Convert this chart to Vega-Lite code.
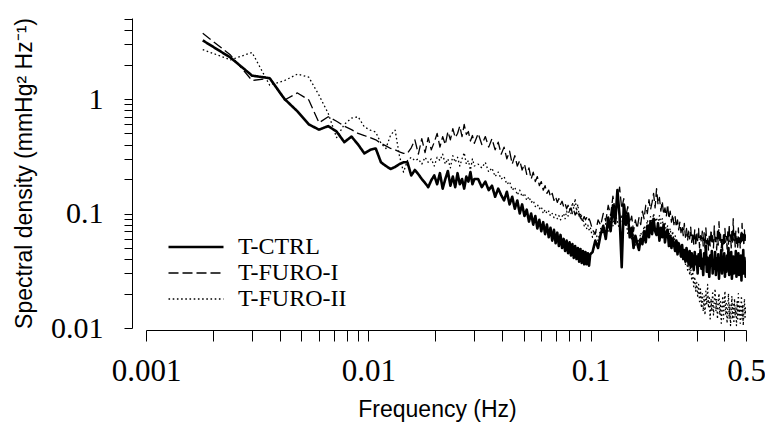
{
"$schema": "https://vega.github.io/schema/vega-lite/v6.json",
"width": 600, "height": 310,
"autosize": "none",
"padding": {"left": 146, "top": 18, "right": 19, "bottom": 108},
"background": "white",
"config": {"view": {"stroke": null}, "font": "Liberation Sans"},
"data": {"values": [
{"f":0.0018,"a":3.25,"b":3.75,"c":2.7},
{"f":0.0024,"a":2.3,"b":2.42,"c":2.2},
{"f":0.003,"a":1.6,"b":1.45,"c":2.55},
{"f":0.0036,"a":1.52,"b":1.52,"c":1.32},
{"f":0.0042,"a":1.0,"b":0.98,"c":1.45},
{"f":0.0048,"a":0.78,"b":1.13,"c":1.65},
{"f":0.0054,"a":0.6,"b":0.98,"c":1.55},
{"f":0.006,"a":0.54,"b":0.62,"c":1.08},
{"f":0.0066,"a":0.58,"b":0.7,"c":0.75},
{"f":0.0072,"a":0.52,"b":0.64,"c":0.46},
{"f":0.0078,"a":0.42,"b":0.58,"c":0.6},
{"f":0.0084,"a":0.47,"b":0.54,"c":0.68},
{"f":0.009,"a":0.4,"b":0.5,"c":0.7},
{"f":0.0096,"a":0.335,"b":0.48,"c":0.57},
{"f":0.0102,"a":0.36,"b":0.46,"c":0.535},
{"f":0.0108,"a":0.37,"b":0.44,"c":0.515},
{"f":0.0114,"a":0.28,"b":0.41,"c":0.41},
{"f":0.012,"a":0.26,"b":0.39,"c":0.37},
{"f":0.0126,"a":0.245,"b":0.37,"c":0.485},
{"f":0.0132,"a":0.255,"b":0.36,"c":0.535},
{"f":0.0138,"a":0.27,"b":0.345,"c":0.32},
{"f":0.0144,"a":0.28,"b":0.335,"c":0.23},
{"f":0.015,"a":0.28,"b":0.336,"c":0.29},
{"f":0.0156,"a":0.215,"b":0.375,"c":0.31},
{"f":0.0162,"a":0.24,"b":0.44,"c":0.29},
{"f":0.0168,"a":0.22,"b":0.33,"c":0.3},
{"f":0.0174,"a":0.2,"b":0.45,"c":0.27},
{"f":0.018,"a":0.185,"b":0.34,"c":0.31},
{"f":0.0186,"a":0.17,"b":0.46,"c":0.28},
{"f":0.0192,"a":0.195,"b":0.36,"c":0.3},
{"f":0.0198,"a":0.215,"b":0.42,"c":0.26},
{"f":0.0204,"a":0.18,"b":0.5,"c":0.31},
{"f":0.021,"a":0.225,"b":0.38,"c":0.29},
{"f":0.0216,"a":0.165,"b":0.47,"c":0.33},
{"f":0.0222,"a":0.2,"b":0.4,"c":0.27},
{"f":0.0228,"a":0.235,"b":0.52,"c":0.3},
{"f":0.0234,"a":0.175,"b":0.44,"c":0.25},
{"f":0.024,"a":0.21,"b":0.55,"c":0.32},
{"f":0.0246,"a":0.17,"b":0.46,"c":0.28},
{"f":0.0252,"a":0.225,"b":0.5,"c":0.31},
{"f":0.0258,"a":0.18,"b":0.58,"c":0.26},
{"f":0.0264,"a":0.2,"b":0.47,"c":0.3},
{"f":0.027,"a":0.165,"b":0.6,"c":0.34},
{"f":0.0276,"a":0.21,"b":0.49,"c":0.27},
{"f":0.0282,"a":0.19,"b":0.52,"c":0.29},
{"f":0.0288,"a":0.23,"b":0.43,"c":0.24},
{"f":0.0294,"a":0.18,"b":0.48,"c":0.3},
{"f":0.03,"a":0.2,"b":0.41,"c":0.26},
{"f":0.0312,"a":0.2,"b":0.5,"c":0.27},
{"f":0.0324,"a":0.17,"b":0.4,"c":0.25},
{"f":0.0336,"a":0.19,"b":0.47,"c":0.28},
{"f":0.0348,"a":0.16,"b":0.38,"c":0.23},
{"f":0.036,"a":0.175,"b":0.45,"c":0.25},
{"f":0.0372,"a":0.14,"b":0.36,"c":0.21},
{"f":0.0384,"a":0.165,"b":0.42,"c":0.23},
{"f":0.0396,"a":0.145,"b":0.33,"c":0.2},
{"f":0.0408,"a":0.13,"b":0.38,"c":0.21},
{"f":0.042,"a":0.155,"b":0.3,"c":0.18},
{"f":0.0432,"a":0.12,"b":0.35,"c":0.19},
{"f":0.0444,"a":0.14,"b":0.27,"c":0.16},
{"f":0.0456,"a":0.11,"b":0.32,"c":0.17},
{"f":0.0468,"a":0.13,"b":0.26,"c":0.145},
{"f":0.048,"a":0.1,"b":0.29,"c":0.16},
{"f":0.0492,"a":0.12,"b":0.24,"c":0.14},
{"f":0.0504,"a":0.095,"b":0.27,"c":0.15},
{"f":0.0516,"a":0.108,"b":0.22,"c":0.13},
{"f":0.0528,"a":0.085,"b":0.25,"c":0.14},
{"f":0.054,"a":0.1,"b":0.2,"c":0.125},
{"f":0.0552,"a":0.08,"b":0.23,"c":0.13},
{"f":0.0564,"a":0.095,"b":0.19,"c":0.115},
{"f":0.0576,"a":0.074,"b":0.21,"c":0.12},
{"f":0.0588,"a":0.088,"b":0.175,"c":0.11},
{"f":0.06,"a":0.07,"b":0.19,"c":0.115},
{"f":0.0612,"a":0.084,"b":0.16,"c":0.1},
{"f":0.0624,"a":0.066,"b":0.175,"c":0.108},
{"f":0.0636,"a":0.08,"b":0.15,"c":0.1},
{"f":0.0648,"a":0.062,"b":0.16,"c":0.105},
{"f":0.066,"a":0.075,"b":0.14,"c":0.095},
{"f":0.0672,"a":0.058,"b":0.15,"c":0.1},
{"f":0.0684,"a":0.072,"b":0.13,"c":0.092},
{"f":0.0696,"a":0.055,"b":0.14,"c":0.098},
{"f":0.0708,"a":0.068,"b":0.125,"c":0.09},
{"f":0.072,"a":0.052,"b":0.135,"c":0.096},
{"f":0.0732,"a":0.065,"b":0.12,"c":0.088},
{"f":0.0744,"a":0.05,"b":0.128,"c":0.094},
{"f":0.0756,"a":0.06,"b":0.115,"c":0.1},
{"f":0.0768,"a":0.047,"b":0.122,"c":0.09},
{"f":0.078,"a":0.058,"b":0.11,"c":0.105},
{"f":0.0792,"a":0.045,"b":0.118,"c":0.095},
{"f":0.0804,"a":0.056,"b":0.105,"c":0.11},
{"f":0.0816,"a":0.043,"b":0.112,"c":0.1},
{"f":0.0828,"a":0.054,"b":0.1,"c":0.125},
{"f":0.084,"a":0.041,"b":0.107,"c":0.11},
{"f":0.0852,"a":0.052,"b":0.097,"c":0.135},
{"f":0.0864,"a":0.04,"b":0.103,"c":0.105},
{"f":0.0876,"a":0.05,"b":0.094,"c":0.12},
{"f":0.0888,"a":0.038,"b":0.1,"c":0.095},
{"f":0.09,"a":0.049,"b":0.091,"c":0.1},
{"f":0.0912,"a":0.037,"b":0.097,"c":0.085},
{"f":0.0924,"a":0.047,"b":0.089,"c":0.09},
{"f":0.0936,"a":0.036,"b":0.094,"c":0.078},
{"f":0.0948,"a":0.046,"b":0.088,"c":0.082},
{"f":0.096,"a":0.036,"b":0.092,"c":0.074},
{"f":0.0972,"a":0.045,"b":0.086,"c":0.079},
{"f":0.0984,"a":0.035,"b":0.09,"c":0.072},
{"f":0.0996,"a":0.044,"b":0.085,"c":0.076},
{"f":0.102,"a":0.046,"b":0.072,"c":0.062},
{"f":0.105,"a":0.058,"b":0.066,"c":0.07},
{"f":0.108,"a":0.05,"b":0.088,"c":0.058},
{"f":0.111,"a":0.066,"b":0.079,"c":0.074},
{"f":0.114,"a":0.078,"b":0.1,"c":0.066},
{"f":0.117,"a":0.06,"b":0.086,"c":0.082},
{"f":0.12,"a":0.092,"b":0.118,"c":0.07},
{"f":0.123,"a":0.07,"b":0.096,"c":0.094},
{"f":0.126,"a":0.118,"b":0.142,"c":0.078},
{"f":0.129,"a":0.082,"b":0.105,"c":0.1},
{"f":0.132,"a":0.16,"b":0.125,"c":0.085},
{"f":0.135,"a":0.095,"b":0.17,"c":0.072},
{"f":0.138,"a":0.034,"b":0.11,"c":0.098},
{"f":0.141,"a":0.12,"b":0.135,"c":0.08},
{"f":0.144,"a":0.08,"b":0.095,"c":0.09},
{"f":0.147,"a":0.1,"b":0.115,"c":0.066},
{"f":0.15,"a":0.062,"b":0.082,"c":0.074},
{"f":0.153,"a":0.075,"b":0.095,"c":0.058},
{"f":0.156,"a":0.05,"b":0.07,"c":0.065},
{"f":0.159,"a":0.064,"b":0.088,"c":0.052},
{"f":0.162,"a":0.055,"b":0.074,"c":0.06},
{"f":0.165,"a":0.048,"b":0.092,"c":0.056},
{"f":0.168,"a":0.06,"b":0.08,"c":0.068},
{"f":0.171,"a":0.054,"b":0.105,"c":0.062},
{"f":0.174,"a":0.07,"b":0.09,"c":0.078},
{"f":0.177,"a":0.056,"b":0.118,"c":0.07},
{"f":0.18,"a":0.078,"b":0.1,"c":0.088},
{"f":0.183,"a":0.062,"b":0.132,"c":0.076},
{"f":0.186,"a":0.085,"b":0.108,"c":0.094},
{"f":0.189,"a":0.066,"b":0.125,"c":0.08},
{"f":0.192,"a":0.09,"b":0.15,"c":0.1},
{"f":0.195,"a":0.07,"b":0.112,"c":0.085},
{"f":0.198,"a":0.065,"b":0.165,"c":0.092},
{"f":0.201,"a":0.082,"b":0.12,"c":0.078},
{"f":0.204,"a":0.058,"b":0.138,"c":0.096},
{"f":0.207,"a":0.075,"b":0.105,"c":0.082},
{"f":0.21,"a":0.062,"b":0.128,"c":0.09},
{"f":0.213,"a":0.08,"b":0.098,"c":0.072},
{"f":0.216,"a":0.056,"b":0.112,"c":0.084},
{"f":0.219,"a":0.068,"b":0.094,"c":0.07},
{"f":0.222,"a":0.072,"b":0.12,"c":0.078},
{"f":0.225,"a":0.052,"b":0.09,"c":0.064},
{"f":0.228,"a":0.064,"b":0.105,"c":0.074},
{"f":0.231,"a":0.05,"b":0.084,"c":0.06},
{"f":0.234,"a":0.06,"b":0.098,"c":0.07},
{"f":0.237,"a":0.054,"b":0.08,"c":0.056},
{"f":0.24,"a":0.047,"b":0.094,"c":0.064},
{"f":0.243,"a":0.058,"b":0.076,"c":0.052},
{"f":0.246,"a":0.044,"b":0.088,"c":0.058},
{"f":0.249,"a":0.055,"b":0.072,"c":0.048},
{"f":0.252,"a":0.05,"b":0.084,"c":0.054},
{"f":0.255,"a":0.042,"b":0.068,"c":0.045},
{"f":0.258,"a":0.053,"b":0.078,"c":0.05},
{"f":0.261,"a":0.04,"b":0.064,"c":0.04},
{"f":0.264,"a":0.048,"b":0.082,"c":0.046},
{"f":0.267,"a":0.038,"b":0.062,"c":0.036},
{"f":0.27,"a":0.05,"b":0.074,"c":0.042},
{"f":0.273,"a":0.043,"b":0.058,"c":0.032},
{"f":0.276,"a":0.036,"b":0.07,"c":0.038},
{"f":0.279,"a":0.047,"b":0.06,"c":0.029},
{"f":0.282,"a":0.034,"b":0.076,"c":0.034},
{"f":0.285,"a":0.045,"b":0.056,"c":0.026},
{"f":0.288,"a":0.038,"b":0.068,"c":0.031},
{"f":0.291,"a":0.032,"b":0.054,"c":0.023},
{"f":0.294,"a":0.046,"b":0.072,"c":0.028},
{"f":0.297,"a":0.036,"b":0.052,"c":0.021},
{"f":0.3,"a":0.042,"b":0.066,"c":0.025},
{"f":0.303,"a":0.03,"b":0.058,"c":0.019},
{"f":0.306,"a":0.044,"b":0.074,"c":0.024},
{"f":0.309,"a":0.035,"b":0.05,"c":0.017},
{"f":0.312,"a":0.048,"b":0.064,"c":0.022},
{"f":0.315,"a":0.033,"b":0.056,"c":0.015},
{"f":0.318,"a":0.04,"b":0.07,"c":0.02},
{"f":0.321,"a":0.029,"b":0.052,"c":0.014},
{"f":0.324,"a":0.045,"b":0.068,"c":0.019},
{"f":0.327,"a":0.036,"b":0.05,"c":0.013},
{"f":0.33,"a":0.052,"b":0.075,"c":0.021},
{"f":0.333,"a":0.031,"b":0.054,"c":0.016},
{"f":0.336,"a":0.041,"b":0.062,"c":0.024},
{"f":0.339,"a":0.034,"b":0.048,"c":0.015},
{"f":0.342,"a":0.028,"b":0.066,"c":0.019},
{"f":0.345,"a":0.043,"b":0.052,"c":0.012},
{"f":0.348,"a":0.035,"b":0.072,"c":0.018},
{"f":0.351,"a":0.047,"b":0.056,"c":0.014},
{"f":0.354,"a":0.03,"b":0.064,"c":0.021},
{"f":0.357,"a":0.039,"b":0.05,"c":0.013},
{"f":0.36,"a":0.033,"b":0.078,"c":0.017},
{"f":0.363,"a":0.046,"b":0.055,"c":0.022},
{"f":0.366,"a":0.029,"b":0.062,"c":0.014},
{"f":0.369,"a":0.04,"b":0.048,"c":0.018},
{"f":0.372,"a":0.032,"b":0.07,"c":0.012},
{"f":0.375,"a":0.044,"b":0.053,"c":0.016},
{"f":0.378,"a":0.027,"b":0.085,"c":0.02},
{"f":0.381,"a":0.038,"b":0.058,"c":0.013},
{"f":0.384,"a":0.034,"b":0.066,"c":0.017},
{"f":0.387,"a":0.048,"b":0.05,"c":0.011},
{"f":0.39,"a":0.03,"b":0.06,"c":0.015},
{"f":0.393,"a":0.041,"b":0.047,"c":0.019},
{"f":0.396,"a":0.033,"b":0.068,"c":0.012},
{"f":0.399,"a":0.045,"b":0.052,"c":0.016},
{"f":0.402,"a":0.028,"b":0.074,"c":0.021},
{"f":0.405,"a":0.037,"b":0.056,"c":0.013},
{"f":0.408,"a":0.031,"b":0.063,"c":0.017},
{"f":0.411,"a":0.043,"b":0.049,"c":0.011},
{"f":0.414,"a":0.035,"b":0.069,"c":0.015},
{"f":0.417,"a":0.05,"b":0.054,"c":0.02},
{"f":0.42,"a":0.029,"b":0.08,"c":0.012},
{"f":0.423,"a":0.039,"b":0.057,"c":0.016},
{"f":0.426,"a":0.032,"b":0.065,"c":0.0105},
{"f":0.429,"a":0.046,"b":0.05,"c":0.014},
{"f":0.432,"a":0.027,"b":0.072,"c":0.019},
{"f":0.435,"a":0.036,"b":0.055,"c":0.012},
{"f":0.438,"a":0.042,"b":0.09,"c":0.016},
{"f":0.441,"a":0.03,"b":0.058,"c":0.011},
{"f":0.444,"a":0.038,"b":0.067,"c":0.018},
{"f":0.447,"a":0.033,"b":0.051,"c":0.013},
{"f":0.45,"a":0.047,"b":0.07,"c":0.015},
{"f":0.453,"a":0.028,"b":0.055,"c":0.0105},
{"f":0.456,"a":0.04,"b":0.062,"c":0.017},
{"f":0.459,"a":0.034,"b":0.049,"c":0.012},
{"f":0.462,"a":0.045,"b":0.075,"c":0.02},
{"f":0.465,"a":0.029,"b":0.056,"c":0.013},
{"f":0.468,"a":0.037,"b":0.064,"c":0.016},
{"f":0.471,"a":0.031,"b":0.05,"c":0.011},
{"f":0.474,"a":0.043,"b":0.07,"c":0.015},
{"f":0.477,"a":0.026,"b":0.054,"c":0.019},
{"f":0.48,"a":0.039,"b":0.082,"c":0.012},
{"f":0.483,"a":0.033,"b":0.058,"c":0.016},
{"f":0.486,"a":0.048,"b":0.066,"c":0.0105},
{"f":0.489,"a":0.03,"b":0.052,"c":0.014},
{"f":0.492,"a":0.041,"b":0.072,"c":0.018},
{"f":0.495,"a":0.035,"b":0.056,"c":0.012},
{"f":0.498,"a":0.028,"b":0.065,"c":0.015},
{"f":0.5,"a":0.038,"b":0.06,"c":0.013}
]},
"transform": [{"fold": ["a", "b", "c"], "as": ["series", "psd"]}],
"mark": {"type": "line", "color": "black", "clip": true, "strokeJoin": "round"},
"encoding": {
  "x": {"field": "f", "type": "quantitative",
    "scale": {"type": "log", "domain": [0.001, 0.5], "nice": false},
    "axis": {"values": [0.001,0.002,0.003,0.004,0.005,0.006,0.007,0.008,0.009,0.01,0.02,0.03,0.04,0.05,0.06,0.07,0.08,0.09,0.1,0.2,0.3,0.4,0.5],
      "labelExpr": "datum.value == 0.001 ? '0.001' : datum.value == 0.01 ? '0.01' : datum.value == 0.1 ? '0.1' : datum.value == 0.5 ? '0.5' : ''",
      "offset": 2, "tickSize": 11, "tickColor": "black", "domainColor": "black", "grid": false,
      "labelFont": "Liberation Serif", "labelFontSize": 31, "labelColor": "black", "labelPadding": 15,
      "labelOverlap": false, "labelFlush": false, "labelBound": false,
      "title": "Frequency (Hz)", "titleFont": "Liberation Sans", "titleFontSize": 23, "titleFontWeight": "normal", "titleColor": "black",
      "titleX": 291, "titleY": 86, "titleBaseline": "alphabetic", "titleAnchor": null}},
  "y": {"field": "psd", "type": "quantitative",
    "scale": {"type": "log", "domain": [0.01, 5.1], "nice": false},
    "axis": {"values": [0.01,0.02,0.03,0.04,0.05,0.06,0.07,0.08,0.09,0.1,0.2,0.3,0.4,0.5,0.6,0.7,0.8,0.9,1,2,3,4,5],
      "labelExpr": "datum.value == 0.01 ? '0.01' : datum.value == 0.1 ? '0.1' : datum.value == 1 ? '1' : ''",
      "offset": 14, "tickSize": 8, "tickColor": "black", "domainColor": "black", "grid": false,
      "labelFont": "Liberation Serif", "labelFontSize": 30, "labelColor": "black", "labelPadding": 21,
      "labelOverlap": false, "labelFlush": false, "labelBound": false,
      "title": "Spectral density (mmHg² Hz⁻¹)", "titleFont": "Liberation Sans", "titleFontSize": 23, "titleFontWeight": "normal", "titleColor": "black",
      "titleX": -101, "titleY": 155, "titleAngle": -90, "titleAlign": "center", "titleBaseline": "alphabetic"}},
  "strokeDash": {"field": "series", "type": "nominal",
    "scale": {"domain": ["a", "b", "c"], "range": [[1, 0], [10, 4], [1.6, 2.6]]},
    "legend": {"orient": "none", "legendX": 38, "legendY": 217, "title": null,
      "symbolType": "stroke", "symbolSize": 3025, "symbolStrokeColor": "black",
      "labelFont": "Liberation Serif", "labelFontSize": 24, "labelColor": "black", "labelOffset": 30,
      "rowPadding": 2, "padding": 0,
      "labelExpr": "datum.label == 'a' ? 'T-CTRL' : datum.label == 'b' ? 'T-FURO-I' : 'T-FURO-II'",
      "encode": {"symbols": {"update": {"strokeWidth": {"signal": "datum.value == 'a' ? 2.6 : 1.3"}}}}}},
  "strokeWidth": {"condition": {"test": "datum.series == 'a'", "value": 2.6}, "value": 1.3}
}
}
